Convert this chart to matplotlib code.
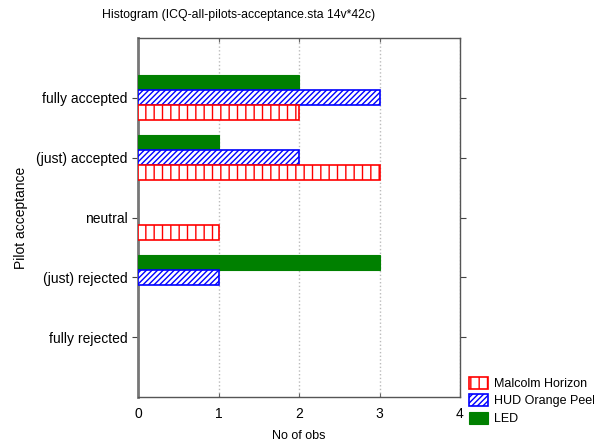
import numpy as np
import matplotlib.pyplot as plt

plt.rcParams['font.family'] = ['Liberation Sans', 'DejaVu Sans']
plt.rcParams['hatch.linewidth'] = 1.0

categories = ['fully accepted', '(just) accepted', 'neutral', '(just) rejected', 'fully rejected']
led = [2, 1, 0, 3, 0]
hud = [3, 2, 0, 1, 0]
malcolm = [2, 3, 1, 0, 0]

W, H = 594, 443
fig = plt.figure(figsize=(W / 100, H / 100), dpi=100)
ax = fig.add_axes([138 / W, 1 - 397 / H, (460 - 138) / W, (397 - 38) / H])

pos = np.arange(len(categories))
h = 0.25


def bars(vals, offset, **kw):
    vals = np.asarray(vals)
    keep = vals > 0  # zero counts draw nothing
    return ax.barh(pos[keep] + offset, vals[keep], height=h, zorder=3, **kw)


bars(led, -h, color='#008000', edgecolor='#008000', linewidth=0.8, label='LED')
bars(hud, 0, color='white', edgecolor='blue', hatch='//////', linewidth=1.2, label='HUD Orange Peel')
bars(malcolm, h, color='white', edgecolor='red', hatch='||', linewidth=1.2, label='Malcolm Horizon')

ax.set_xlim(0, 4)
ax.set_ylim(len(categories), -1)
ax.set_xticks([0, 1, 2, 3, 4])
ax.set_yticks(pos)
ax.set_yticklabels(categories)
ax.tick_params(axis='x', direction='in', top=True, length=3, labelsize=10, pad=7, color='#666666')
ax.tick_params(axis='y', direction='out', right=True, length=4, labelsize=10, color='#444444')
ax.xaxis.grid(True, linestyle=':', color='#bbbbbb', linewidth=1, zorder=0)
ax.set_axisbelow(True)

for s in ax.spines.values():
    s.set_color('#555555')
    s.set_linewidth(1)
ax.spines['left'].set_linewidth(2)
ax.spines['left'].set_color('#777777')

ax.set_xlabel('No of obs', fontsize=9, labelpad=7)
ax.set_ylabel('Pilot acceptance', fontsize=10, labelpad=6)

fig.text(102 / W, 1 - 15 / H, 'Histogram (ICQ-all-pilots-acceptance.sta 14v*42c)', fontsize=8.8,
         ha='left', va='center')

handles, labels = ax.get_legend_handles_labels()
fig.legend(handles[::-1], labels[::-1], loc='lower left', bbox_to_anchor=(469 / W, 1 - 425 / H),
           frameon=False, fontsize=9, handlelength=1.5, handleheight=1.1, handletextpad=0.5,
           labelspacing=0.35, borderpad=0, borderaxespad=0)

fig.savefig('out.png', dpi=100)
